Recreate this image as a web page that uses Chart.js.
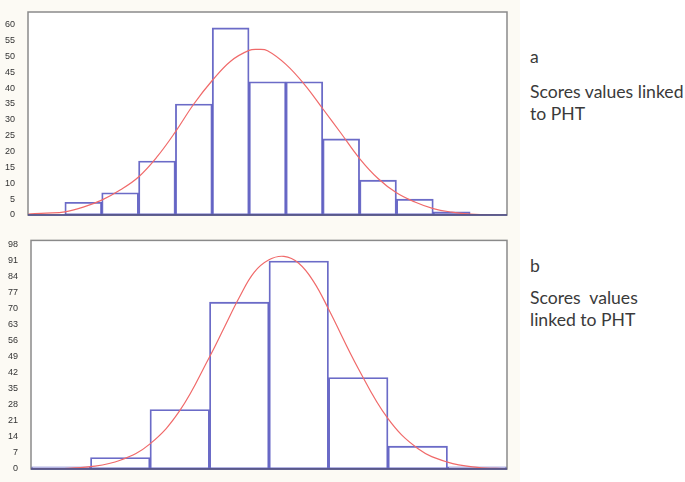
<!DOCTYPE html>
<html>
<head>
<meta charset="utf-8">
<script src="https://cdn.jsdelivr.net/npm/chart.js@4/dist/chart.umd.min.js"></script>
<style>
  body { margin: 0; width: 685px; height: 482px; background: #ffffff; position: relative; overflow: hidden; }
  #cream { position: absolute; left: 0; top: 0; width: 520px; height: 482px; background: #fcfaf4; }
  canvas { position: absolute; left: 0; }
  .note { position: absolute; left: 530px; font-family: "Lato", "Open Sans", sans-serif; font-size: 17.6px; line-height: 22px; color: #3a3a3a; white-space: nowrap; }
</style>
</head>
<body>
<div id="cream"></div>
<canvas id="chartA" width="520" height="230" style="top:0"></canvas>
<canvas id="chartB" width="520" height="252" style="top:230px"></canvas>
<div class="note" style="top:46px">a</div>
<div class="note" style="top:81px">Scores values linked<br>to PHT</div>
<div class="note" style="top:255px">b</div>
<div class="note" style="top:287px">Scores&nbsp; values<br>linked to PHT</div>

<script>
// histogram a: 13 bins, counts per bin
const countsA = [0, 4, 7, 17, 35, 59, 42, 42, 24, 11, 5, 1, 0];
// fitted curve a (x in bin units from left edge)
const curveAx = [0, 0.5, 1, 1.5, 2, 2.5, 3, 3.5, 4, 4.5, 5, 5.5, 6, 6.25, 6.5, 7, 7.5, 8, 8.5, 9, 9.5, 10, 10.5, 11, 11.5, 12, 13];
const curveAy = [0.3, 0.6, 1.0, 2.5, 4.7, 7.9, 12, 18.3, 26.2, 35, 42.4, 48.5, 51.9, 52.2, 51.8, 47.5, 41.2, 33.5, 25.7, 17.8, 11.5, 7, 4.1, 2.0, 0.9, 0.3, 0];

// histogram b: 8 bins
const countsB = [1, 5, 26, 73, 91, 40, 10, 1];
const curveBx = [0, 0.5, 1, 1.5, 2, 2.5, 3, 3.25, 3.5, 3.75, 4, 4.25, 4.5, 4.75, 5, 5.5, 6, 6.5, 7, 7.5, 8];
const curveBy = [0, 0.2, 1, 3.8, 11, 25.5, 49, 62, 75, 86, 91.5, 93, 90, 82, 70, 44, 22, 9, 3, 0.7, 0.1];

const barColor = "rgba(70,70,185,0.8)";
const curveColor = "#f06a6a";

// white plot area + grey frame
const framePlugin = {
  id: "frame",
  beforeDraw(chart) {
    const a = chart.chartArea, c = chart.ctx;
    c.save();
    c.fillStyle = "#ffffff";
    c.fillRect(a.left, a.top, a.right - a.left, a.bottom - a.top);
    c.restore();
  },
  afterDraw(chart) {
    const a = chart.chartArea, c = chart.ctx;
    c.save();
    c.strokeStyle = "#8a8a8a";
    c.lineWidth = 1.5;
    c.strokeRect(a.left, a.top, a.right - a.left, a.bottom - a.top);
    c.strokeStyle = "#4a4a8a";
    c.beginPath();
    c.moveTo(a.left, a.bottom);
    c.lineTo(a.right, a.bottom);
    c.stroke();
    c.restore();
  }
};

function makeHist(id, counts, cx, cy, yMax, step, axisWidth, pad) {
  return new Chart(document.getElementById(id), {
    data: {
      datasets: [
        {
          type: "line",
          data: cx.map((x, i) => ({ x: x, y: cy[i] })),
          borderColor: curveColor,
          borderWidth: 1.2,
          pointRadius: 0,
          tension: 0.4,
          order: 0,
        },
        {
          type: "bar",
          data: counts.map((v, i) => ({ x: i + 0.5, y: v })),
          backgroundColor: "rgba(255,255,255,0)",
          borderColor: barColor,
          borderWidth: 1.2,
          borderSkipped: false,
          barPercentage: 1,
          categoryPercentage: 1,
          order: 1,
        },
      ],
    },
    options: {
      responsive: false,
      animation: false,
      layout: { padding: pad },
      plugins: { legend: { display: false }, tooltip: { enabled: false } },
      scales: {
        x: { type: "linear", min: 0, max: counts.length, offset: false, display: false },
        y: {
          min: 0,
          max: yMax,
          grid: { display: false },
          border: { display: false },
          afterFit: (scale) => { scale.width = axisWidth; },
          ticks: {
            stepSize: step,
            includeBounds: false,
            padding: 5,
            color: "#333333",
            font: { family: "Liberation Sans", size: 9 },
          },
        },
      },
    },
    plugins: [framePlugin],
  });
}

makeHist("chartA", countsA, curveAx, curveAy, 64, 5, 28, { left: 0, top: 12, right: 13, bottom: 15 });
makeHist("chartB", countsB, curveBx, curveBy, 100, 7, 31, { left: 0, top: 8, right: 13, bottom: 13 });
</script>
</body>
</html>
